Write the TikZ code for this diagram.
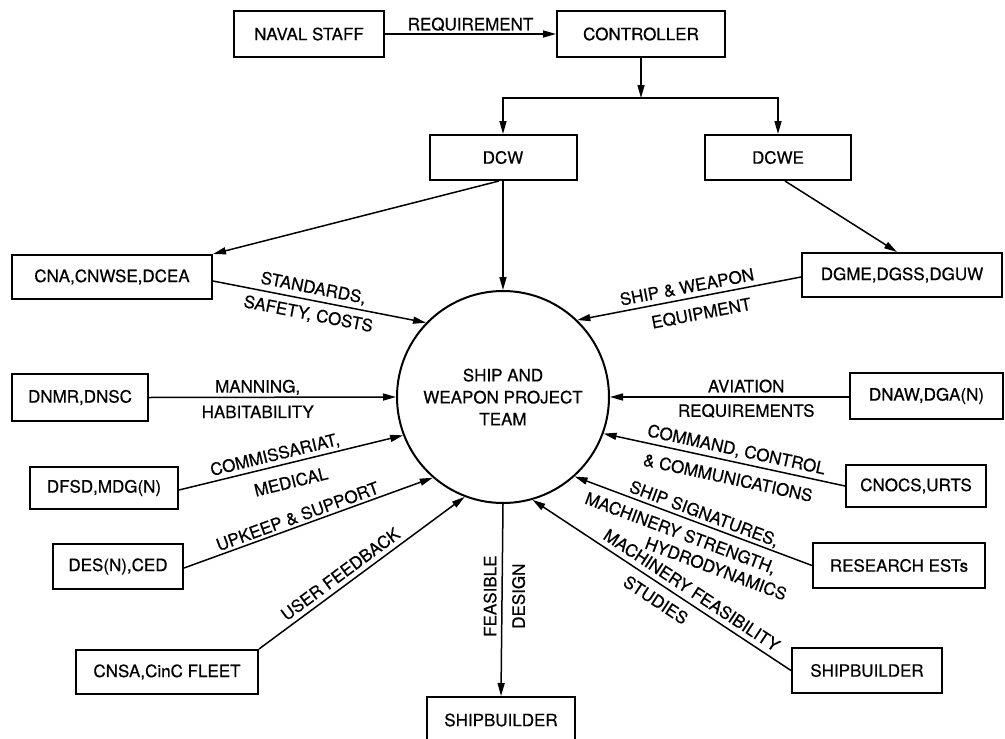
\documentclass[tikz,border=0pt]{standalone}
\usepackage{fontspec}
\setmainfont{TeX Gyre Heros}[FakeBold=0.5]
\usetikzlibrary{arrows.meta}
\begin{document}
\begin{tikzpicture}[x=1pt,y=-1pt,
  font=\fontsize{17}{21}\selectfont,
  box/.style={draw, line width=2pt, inner sep=0pt, minimum height=45pt, align=center},
  arr/.style={line width=1.5pt, -{Triangle[length=13pt,width=7pt]}},
  lab/.style={sloped, inner sep=0pt, text height=12pt, text depth=0pt},
  vlab/.style={rotate=90, text height=12pt, text depth=0pt}]
\useasboundingbox (0,0) rectangle (1005,739);
\fill[white] (0,0) rectangle (1005,739);

% boxes
\node[box, minimum width=150pt, minimum height=46pt] (naval) at (309,34) {NAVAL STAFF};
\node[box, minimum width=168pt, minimum height=46pt] (ctrl) at (641,34) {CONTROLLER};
\node[box, minimum width=147pt] (dcw) at (503,157.5) {DCW};
\node[box, minimum width=146pt] (dcwe) at (778,157.5) {DCWE};
\node[box, minimum width=200pt, minimum height=44pt] (cna) at (112,277) {CNA,CNWSE,DCEA};
\node[box, minimum width=200pt, minimum height=44pt] (dgme) at (902,275) {DGME,DGSS,DGUW};
\node[box, minimum width=136pt, minimum height=47pt] (dnmr) at (80,397.5) {DNMR,DNSC};
\node[box, minimum width=153pt, minimum height=46pt] (dnaw) at (926.5,396) {DNAW,DGA(N)};
\node[box, minimum width=148pt, minimum height=42pt] (dfsd) at (104,488) {DFSD,MDG(N)};
\node[box, minimum width=140pt, minimum height=42pt] (cnocs) at (916,486) {CNOCS,URTS};
\node[box, minimum width=130pt] (des) at (118,566.5) {DES(N),CED};
\node[box, minimum width=172pt] (research) at (899,565.5) {RESEARCH ESTs};
\node[box, minimum width=182pt, minimum height=44pt] (cnsa) at (167,672) {CNSA,CinC FLEET};
\node[box, minimum width=150pt] (shipr) at (867,670.5) {SHIPBUILDER};
\node[box, minimum width=148pt, minimum height=46pt] (shipb) at (501,720) {SHIPBUILDER};
\node[draw, circle, line width=2pt, minimum size=212pt, inner sep=0pt, align=center,
      font=\fontsize{17}{22}\selectfont] (team) at (503,397) {SHIP AND\\WEAPON PROJECT\\TEAM};

% top hierarchy
\draw[arr] (naval.east) -- node[above=3pt, inner sep=0pt, text height=12pt, text depth=0pt]{REQUIREMENT} (ctrl.west);
\coordinate (j) at (641,98);
\draw[arr] (ctrl.south) -- (j);
\draw[arr] (j) -| (dcw.north);
\draw[arr] (j) -| (dcwe.north);
\draw[arr] (dcw.south) -- (team.north);
\draw[arr] ([xshift=-4pt]dcw.south) -- (cna.north east);
\draw[arr] ([xshift=7pt]dcwe.south) -- ([xshift=-5pt]dgme.north);

% left inputs
\draw[arr] ([yshift=-4pt]cna.east) --
  node[lab, pos=0.46, above=6pt]{STANDARDS,}
  node[lab, pos=0.46, below=7pt]{SAFETY, COSTS} (team.136);
\draw[arr] (dnmr.east) --
  node[lab, pos=0.44, above=4pt]{MANNING,}
  node[lab, pos=0.44, below=8pt]{HABITABILITY} (team.west);
\draw[arr] ([yshift=-2pt]dfsd.east) --
  node[lab, pos=0.44, above=5pt]{COMMISSARIAT,}
  node[lab, pos=0.48, below=12pt]{MEDICAL} (team.201);
\draw[arr] ([yshift=-1.5pt]des.east) --
  node[lab, pos=0.47, above=3pt]{UPKEEP \& SUPPORT} (team.229);
\draw[arr] (cnsa.north east) --
  node[lab, pos=0.43, above=5pt]{USER FEEDBACK} (team.249);

% right inputs
\draw[arr] ([yshift=-2pt]dgme.west) --
  node[lab, pos=0.5, above=5pt]{SHIP \& WEAPON}
  node[lab, pos=0.46, below=10pt]{EQUIPMENT} (team.46);
\draw[arr] ([yshift=-1pt]dnaw.west) --
  node[lab, pos=0.43, above=4pt]{AVIATION}
  node[lab, pos=0.43, below=7pt]{REQUIREMENTS} (team.east);
\draw[arr] (cnocs.west) --
  node[lab, pos=0.46, above=6pt]{COMMAND, CONTROL}
  node[lab, pos=0.47, below=10pt]{\& COMMUNICATIONS} (team.-20);
\draw[arr] (research.west) --
  node[lab, pos=0.47, above=4pt]{SHIP SIGNATURES,}
  node[lab, pos=0.53, below=9pt]{MACHINERY STRENGTH,}
  node[lab, pos=0.35, below=30pt]{HYDRODYNAMICS} (team.-48);
\draw[arr] (shipr.west) --
  node[lab, pos=0.41, above=5.5pt]{MACHINERY FEASIBILITY}
  node[lab, pos=0.49, below=9pt]{STUDIES} (team.-74);

% output
\draw[arr] (team.south) --
  node[vlab, pos=0.48, anchor=south, inner sep=5pt]{FEASIBLE}
  node[vlab, pos=0.48, anchor=north, inner sep=10pt]{DESIGN} (shipb.north);
\end{tikzpicture}
\end{document}
